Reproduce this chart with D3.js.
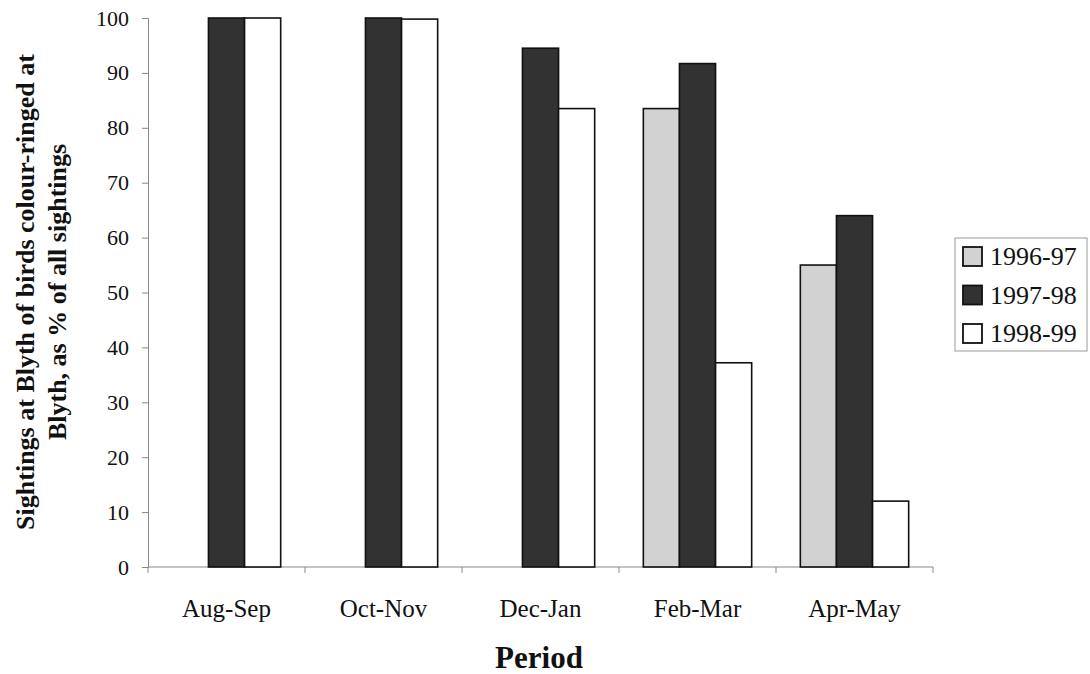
<!DOCTYPE html>
<html><head><meta charset="utf-8">
<script src="https://cdn.jsdelivr.net/npm/d3@7"></script>
<style>body{margin:0;background:#fff}svg{display:block}text{font-family:"Liberation Serif","Times New Roman",serif}</style>
</head><body>
<svg id="c" width="1090" height="674"></svg>
<script>
const categories = ["Aug-Sep","Oct-Nov","Dec-Jan","Feb-Mar","Apr-May"];
const seriesNames = ["1996-97","1997-98","1998-99"];
const s1996 = [null, null, null, 83.5, 55];
const s1997 = [100, 100, 94.5, 91.7, 64];
const s1998 = [100, 99.8, 83.5, 37.2, 12];
const yTicks = [0,10,20,30,40,50,60,70,80,90,100];
const colors = ["#d2d2d2","#323232","#ffffff"];

const svg = d3.select("#c");
const x0 = d3.scaleBand().domain(categories).range([148, 933]).paddingInner(0.31).paddingOuter(0.155);
const x = d3.scaleBand().domain(seriesNames).range([0, x0.bandwidth()]);
const y = d3.scaleLinear().domain([0,100]).range([567, 18]);

// Axes
const yAxis = svg.append("g").attr("transform","translate(148,0)")
  .call(d3.axisLeft(y).tickValues(yTicks).tickSize(6).tickPadding(13));
yAxis.select(".domain").attr("stroke","#888");
yAxis.selectAll(".tick line").attr("stroke","#888");
yAxis.selectAll("text").attr("font-size",22).attr("fill","#111");

const bounds = d3.range(categories.length+1).map(i => 148 + i*(933-148)/categories.length);
const xg = svg.append("g");
xg.append("line").attr("x1",148).attr("x2",933).attr("y1",567).attr("y2",567).attr("stroke","#888");
xg.selectAll("line.t").data(bounds).join("line").attr("class","t")
  .attr("x1",d=>d).attr("x2",d=>d).attr("y1",567).attr("y2",573).attr("stroke","#888");
xg.selectAll("text").data(categories).join("text")
  .attr("x",d=>x0(d)+x0.bandwidth()/2).attr("y",617).attr("text-anchor","middle")
  .attr("font-size",25).attr("fill","#111").text(d=>d);

// Bars
const data = [s1996, s1997, s1998];
const rows = [];
categories.forEach((c,i)=>seriesNames.forEach((s,j)=>{ if(data[j][i]!=null) rows.push({c,s,j,v:data[j][i]}); }));
svg.append("g").selectAll("rect").data(rows).join("rect")
  .attr("x",d=>x0(d.c)+x(d.s)).attr("width",x.bandwidth())
  .attr("y",d=>y(d.v)).attr("height",d=>y(0)-y(d.v))
  .attr("fill",d=>colors[d.j]).attr("stroke","#111").attr("stroke-width",1.6);

// Y title
const yt = svg.append("text").attr("transform","translate(0,292) rotate(-90)")
  .attr("text-anchor","middle").attr("font-weight","bold").attr("font-size",26).attr("fill","#111");
yt.append("tspan").attr("x",0).attr("y",34).text("Sightings at Blyth of birds colour-ringed at");
yt.append("tspan").attr("x",0).attr("y",66).text("Blyth, as % of all sightings");

// X title
svg.append("text").attr("x",539).attr("y",668).attr("text-anchor","middle")
  .attr("font-weight","bold").attr("font-size",31).attr("fill","#111").text("Period");

// Legend
const lg = svg.append("g");
lg.append("rect").attr("x",955).attr("y",238).attr("width",132).attr("height",113)
  .attr("fill","#fff").attr("stroke","#999").attr("stroke-width",1);
const li = lg.selectAll("g").data(seriesNames).join("g")
  .attr("transform",(d,i)=>`translate(963,${265+i*38.5})`);
li.append("rect").attr("x",0).attr("y",-18).attr("width",19).attr("height",19)
  .attr("fill",(d,i)=>colors[i]).attr("stroke","#111").attr("stroke-width",1.8);
li.append("text").attr("x",27).attr("y",0).attr("font-size",26).attr("fill","#111").text(d=>d);
</script>
</body></html>
